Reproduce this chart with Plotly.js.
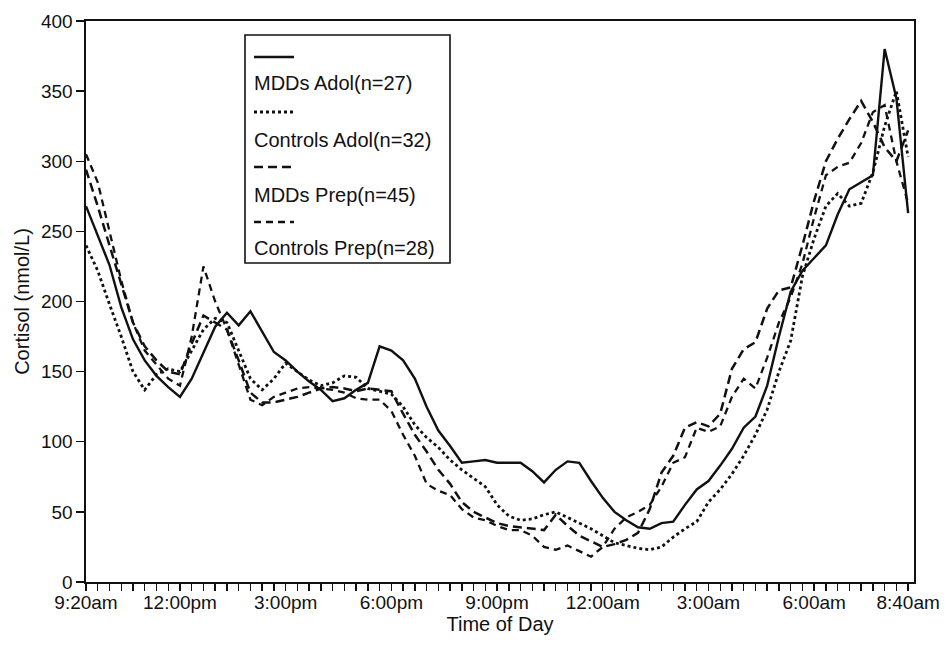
<!DOCTYPE html>
<html>
<head>
<meta charset="utf-8">
<script src="https://cdn.plot.ly/plotly-3.0.1.min.js"></script>
<style>html,body{margin:0;padding:0;background:#fff;}#chart{width:946px;height:648px;}</style>
</head>
<body>
<div id="chart"></div>
<script>
// Minutes after 9:20am (sampling every 20 minutes until 8:40am next day)
const minutes = [0,20,40,60,80,100,120,140,160,180,200,220,240,260,280,300,320,340,360,380,
  400,420,440,460,480,500,520,540,560,580,600,620,640,660,680,700,720,740,760,780,
  800,820,840,860,880,900,920,940,960,980,1000,1020,1040,1060,1080,1100,1120,1140,1160,1180,
  1200,1220,1240,1260,1280,1300,1320,1340,1360,1380,1400];

const mddsAdol = [268,247,226,196,173,158,147,139,132,145,163,182,192,183,193,178,164,158,150,143,
  137,129,131,137,142,168,165,158,145,125,108,97,85,86,87,85,85,85,79,71,
  80,86,85,72,60,50,44,39,38,42,43,55,66,72,83,95,110,118,140,175,
  207,222,231,240,262,280,285,290,380,345,263];

const controlsAdol = [240,222,198,175,150,137,148,152,150,165,180,188,185,165,145,137,145,156,150,144,
  140,142,147,146,138,136,134,125,112,103,96,87,80,74,68,55,47,44,45,48,
  50,46,42,38,33,28,26,24,23,25,32,38,43,57,66,77,90,105,123,150,
  172,218,245,268,277,268,270,292,325,350,303];

const mddsPrep = [294,268,240,213,185,168,158,150,148,170,190,185,180,158,135,128,128,130,132,135,
  138,139,138,136,138,137,136,120,105,93,80,70,57,50,46,42,40,39,38,37,
  48,40,33,29,25,27,30,35,52,78,90,110,114,111,120,152,166,171,195,208,
  210,240,272,300,316,330,343,328,310,300,322];

const controlsPrep = [305,285,250,215,185,165,155,145,140,175,225,200,180,155,130,126,132,135,138,139,
  138,137,135,131,130,130,122,105,90,70,65,62,52,46,44,40,37,37,33,25,
  23,26,22,18,25,38,46,50,55,68,85,89,110,107,111,132,145,138,160,185,
  203,227,260,290,296,299,313,335,340,300,270];

const seriesNames = ['MDDs Adol(n=27)','Controls Adol(n=32)','MDDs Prep(n=45)','Controls Prep(n=28)'];

const tickLabels = ['9:20am','12:00pm','3:00pm','6:00pm','9:00pm','12:00am','3:00am','6:00am','8:40am'];
const tickMinutes = [0,160,340,520,700,880,1060,1240,1400];
const yTicks = [0,50,100,150,200,250,300,350,400];

const FONT = 'Liberation Sans, Arial, Helvetica, sans-serif';
const INK = '#111111';

const dashes = ['solid','dot','9px,5px','7px,5px'];
const widths = [2.4,2.8,2.5,2.3];
const allSeries = [mddsAdol, controlsAdol, mddsPrep, controlsPrep];

const traces = allSeries.map((ys, k) => ({
  type: 'scatter', mode: 'lines', x: minutes, y: ys, name: seriesNames[k],
  line: {color: INK, width: widths[k], dash: dashes[k]}, showlegend: false,
  hoverinfo: 'skip'
}));

// Custom legend: line sample above each label, inside a framed box
function px2xp(px){ return (px-86)/828; }
function px2yp(py){ return (582-py)/561; }
const shapes = [{type:'rect', xref:'paper', yref:'paper', x0:px2xp(245), x1:px2xp(450), y0:px2yp(263), y1:px2yp(35),
  line:{color:INK, width:1.6}, fillcolor:'rgba(0,0,0,0)'}];
const sampleY = [57, 112, 167, 222];
const labelY = [83, 140, 195, 248];
const annotations = [];
for (let k=0;k<4;k++){
  shapes.push({type:'line', xref:'paper', yref:'paper', x0:px2xp(254), x1:px2xp(294), y0:px2yp(sampleY[k]), y1:px2yp(sampleY[k]),
    line:{color:INK, width:widths[k], dash:dashes[k]}});
  annotations.push({xref:'paper', yref:'paper', x:px2xp(252), y:px2yp(labelY[k]), xanchor:'left', yanchor:'middle',
    text: seriesNames[k], showarrow:false, font:{family:FONT, size:20, color:INK}});
}

const layout = {
  width: 946, height: 648,
  margin: {l:86, r:32, t:21, b:66},
  paper_bgcolor:'#ffffff', plot_bgcolor:'#ffffff',
  showlegend:false,
  xaxis: {
    range:[0,1410], showgrid:false, zeroline:false,
    showline:true, linecolor:INK, linewidth:1.6, mirror:true,
    tickmode:'array', tickvals: tickMinutes, ticktext: tickLabels,
    ticks:'outside', ticklen:7, tickwidth:1.4, tickcolor:INK,
    ticklabelstandoff: -4,
    minor:{tickmode:'linear', tick0:0, dtick:20, ticks:'outside', ticklen:7, tickwidth:1.4, tickcolor:INK},
    tickfont:{family:FONT, size:19, color:INK},
    title:{text:'Time of Day', font:{family:FONT, size:20, color:INK}, standoff:4}
  },
  yaxis: {
    range:[0,400], showgrid:false, zeroline:false,
    showline:true, linecolor:INK, linewidth:1.6, mirror:true,
    tickmode:'array', tickvals: yTicks,
    ticks:'outside', ticklen:8, tickwidth:1.4, tickcolor:INK,
    tickfont:{family:FONT, size:19, color:INK},
    title:{text:'Cortisol (nmol/L)', font:{family:FONT, size:20, color:INK}, standoff:6}
  },
  shapes: shapes,
  annotations: annotations
};

Plotly.newPlot('chart', traces, layout, {displayModeBar:false, staticPlot:true});
</script>
</body>
</html>
